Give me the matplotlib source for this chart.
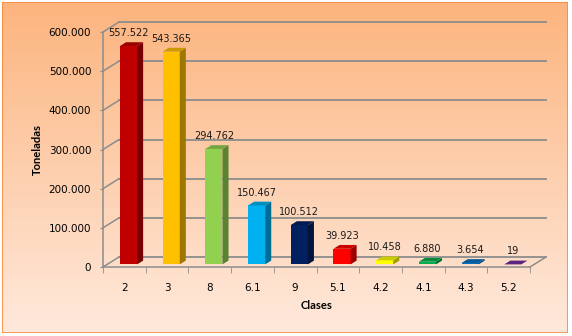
import numpy as np
import matplotlib.pyplot as plt
from matplotlib.patches import Rectangle, Polygon
from matplotlib.colors import to_rgb

# Toneladas por clase
clases = ["2", "3", "8", "6.1", "9", "5.1", "4.2", "4.1", "4.3", "5.2"]
toneladas = [557522, 543365, 294762, 150467, 100512, 39923, 10458, 6880, 3654, 19]
colores = ["#C00000", "#FFC000", "#92D050", "#00B0F0", "#002060",
           "#FF0000", "#FFFF00", "#00B050", "#0070C0", "#7030A0"]
yticks = [0, 100000, 200000, 300000, 400000, 500000, 600000]


def miles(v):
    return f"{v:,}".replace(",", ".")


def oscurecer(c, f):
    r, g, b = to_rgb(c)
    return (r * f, g * f, b * f)


W, H = 572, 336
fig = plt.figure(figsize=(W / 100, H / 100), dpi=100)

# fondo degradado con marco naranja
bg = fig.add_axes([2 / W, 3 / H, 566 / W, 331 / H], zorder=-5)
grad = np.linspace(0, 1, 256).reshape(-1, 1)
top = np.array(to_rgb("#FCB47E"))
bot = np.array(to_rgb("#FFE9DC"))
img = top[None, None, :] * (1 - grad[:, :, None]) + bot[None, None, :] * grad[:, :, None]
bg.imshow(img, aspect="auto", extent=[0, 1, 0, 1])
bg.add_patch(Rectangle((0, 0), 1, 1, transform=bg.transAxes, fill=False,
                       edgecolor="#F58A3C", lw=1.2))
bg.set_axis_off()

# plano frontal
left, right, bottom_px, top_px = 103, 530, 267, 32
ax = fig.add_axes([left / W, (H - bottom_px) / H, (right - left) / W, (bottom_px - top_px) / H])
ax.patch.set_alpha(0)
n = len(clases)
xmin, xmax = -0.5, n - 0.5
ymax = 600000
ax.set_xlim(xmin, xmax)
ax.set_ylim(0, ymax)

# profundidad en unidades de datos
Dx = 16 * (xmax - xmin) / (right - left)
Dy = 10 * ymax / (bottom_px - top_px)
grid_c = "#8C8C8C"

for t in yticks:
    ax.plot([xmin + Dx, xmax + Dx], [t + Dy, t + Dy], color=grid_c, lw=1.3,
            clip_on=False, zorder=1)
    ax.plot([xmin, xmin + Dx], [t, t + Dy], color=grid_c, lw=1.1,
            clip_on=False, zorder=1)
ax.plot([xmax, xmax + Dx], [0, Dy], color=grid_c, lw=1.1, clip_on=False, zorder=1)

# barras 3D
w = 0.4
f1, f2 = 0.26, 0.64
for i, (v, c) in enumerate(zip(toneladas, colores)):
    x0 = i - w / 2 + f1 * Dx
    y0 = f1 * Dy
    ax.add_patch(Rectangle((x0, y0), w, v, facecolor=c, edgecolor="none",
                           clip_on=False, zorder=3))
    side = [(x0 + w, y0), (i + w / 2 + f2 * Dx, f2 * Dy),
            (i + w / 2 + f2 * Dx, v + f2 * Dy), (x0 + w, y0 + v)]
    ax.add_patch(Polygon(side, closed=True, facecolor=oscurecer(c, 0.62),
                         edgecolor="none", clip_on=False, zorder=3))
    topf = [(x0, y0 + v), (x0 + w, y0 + v), (i + w / 2 + f2 * Dx, v + f2 * Dy),
            (i - w / 2 + f2 * Dx, v + f2 * Dy)]
    ax.add_patch(Polygon(topf, closed=True, facecolor=oscurecer(c, 0.8),
                         edgecolor="none", clip_on=False, zorder=3))
    ax.annotate(miles(v), (i + f1 * Dx, v + f2 * Dy), xytext=(0, 3),
                textcoords="offset points", ha="center", va="bottom",
                fontsize=7, color="#1A1A1A", zorder=4)

# ejes
for s in ["top", "right"]:
    ax.spines[s].set_visible(False)
for s in ["left", "bottom"]:
    ax.spines[s].set_color(grid_c)
    ax.spines[s].set_linewidth(1.1)

ax.set_yticks(yticks)
ax.set_yticklabels([miles(t) for t in yticks])
ax.tick_params(axis="y", length=2.5, color=grid_c, pad=6, labelsize=7.5)
ax.set_xticks(range(n))
ax.set_xticklabels(clases)
ax.set_xticks(np.arange(n + 1) - 0.5, minor=True)
ax.tick_params(axis="x", which="major", length=0, pad=11.5, labelsize=7.5)
ax.tick_params(axis="x", which="minor", length=4, color=grid_c)

ax.set_xlabel("Clases", family="Lato", fontweight="bold", fontsize=8, labelpad=5)
ax.set_ylabel("Toneladas", family="Lato", fontweight="bold", fontsize=8, labelpad=4)

fig.savefig("out.png", dpi=100)
